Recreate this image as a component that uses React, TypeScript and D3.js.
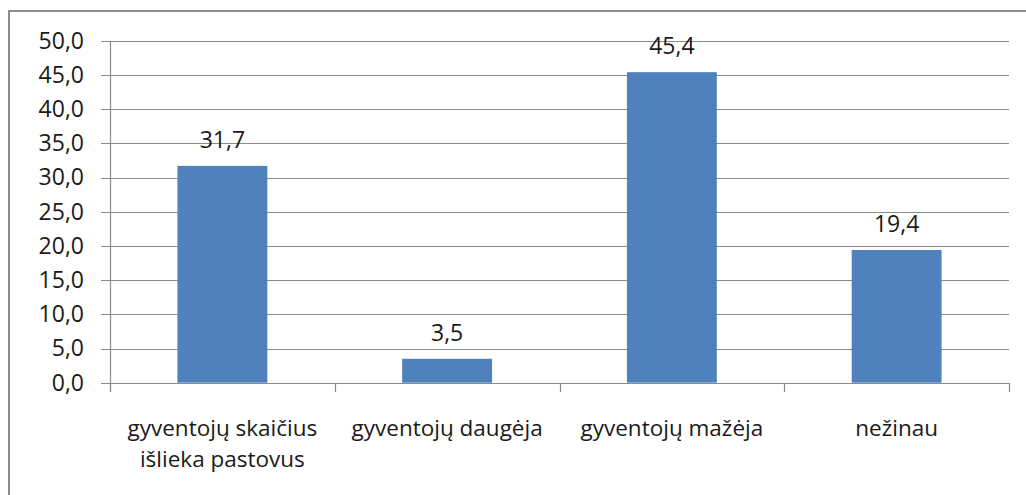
import React from "react";
import * as d3 from "d3";

const categories = [
  "gyventojų skaičius išlieka pastovus",
  "gyventojų daugėja",
  "gyventojų mažėja",
  "nežinau",
];
const values = [31.7, 3.5, 45.4, 19.4];
const yTicks = [0, 5, 10, 15, 20, 25, 30, 35, 40, 45, 50];

const W = 1026;
const H = 495;
const FONT = "'Open Sans', sans-serif";
const FS = 23;
const CFS = 22.5;

function wrap(text: string, maxW: number): string[] {
  const c = document.createElement("canvas").getContext("2d")!;
  c.font = `${CFS}px ${FONT}`;
  const words = text.split(" ");
  const lines: string[] = [];
  let cur = "";
  for (const w of words) {
    const t = cur ? cur + " " + w : w;
    if (c.measureText(t).width > maxW && cur) {
      lines.push(cur);
      cur = w;
    } else cur = t;
  }
  if (cur) lines.push(cur);
  return lines;
}

const fmt = (v: number) => d3.format(".1f")(v).replace(".", ",");

export default function App() {
  const x = d3
    .scaleBand<string>()
    .domain(categories)
    .range([110, 1009])
    .paddingInner(0.6)
    .paddingOuter(0.3);
  const y = d3.scaleLinear().domain([0, 50]).range([382.7, 40.7]);
  const step = x.step();
  const x0 = 110;
  const textColor = "#1a1a1a";
  const grid = "#8a8a8a";

  return (
    <svg
      width={W}
      height={H}
      style={{ position: "absolute", left: 0, top: 0, background: "#fff" }}
    >
      <rect x={9} y={11} width={W + 20} height={H + 20} fill="#fff" stroke="#8c8c8c" strokeWidth={2} />
      {yTicks.map((t) => (
        <g key={t}>
          <line
            x1={101}
            x2={1009}
            y1={Math.round(y(t)) + 0.5}
            y2={Math.round(y(t)) + 0.5}
            stroke={grid}
            strokeWidth={1.2}
          />
          <text
            x={84}
            y={y(t)}
            dy="0.34em"
            textAnchor="end"
            fontFamily={FONT}
            fontSize={FS}
            fill={textColor}
          >
            {fmt(t)}
          </text>
        </g>
      ))}
      <line x1={110.5} x2={110.5} y1={40.7} y2={392} stroke={grid} strokeWidth={1.2} />
      {d3.range(categories.length + 1).map((i) => (
        <line
          key={i}
          x1={Math.round(x0 + i * step) + 0.5}
          x2={Math.round(x0 + i * step) + 0.5}
          y1={383}
          y2={392}
          stroke={grid}
          strokeWidth={1.2}
        />
      ))}
      {categories.map((c, i) => (
        <g key={c}>
          <rect
            x={x(c)!}
            y={y(values[i])}
            width={x.bandwidth()}
            height={y(0) - y(values[i])}
            fill="#4f81bd"
          />
          <text
            x={x(c)! + x.bandwidth() / 2}
            y={y(values[i]) - 18}
            textAnchor="middle"
            fontFamily={FONT}
            fontSize={FS}
            fill={textColor}
          >
            {fmt(values[i])}
          </text>
          {wrap(c, step - 8).map((ln, j) => (
            <text
              key={j}
              x={x(c)! + x.bandwidth() / 2}
              y={435.5 + j * 31}
              textAnchor="middle"
              fontFamily={FONT}
              fontSize={CFS}
              fill={textColor}
            >
              {ln}
            </text>
          ))}
        </g>
      ))}
    </svg>
  );
}
